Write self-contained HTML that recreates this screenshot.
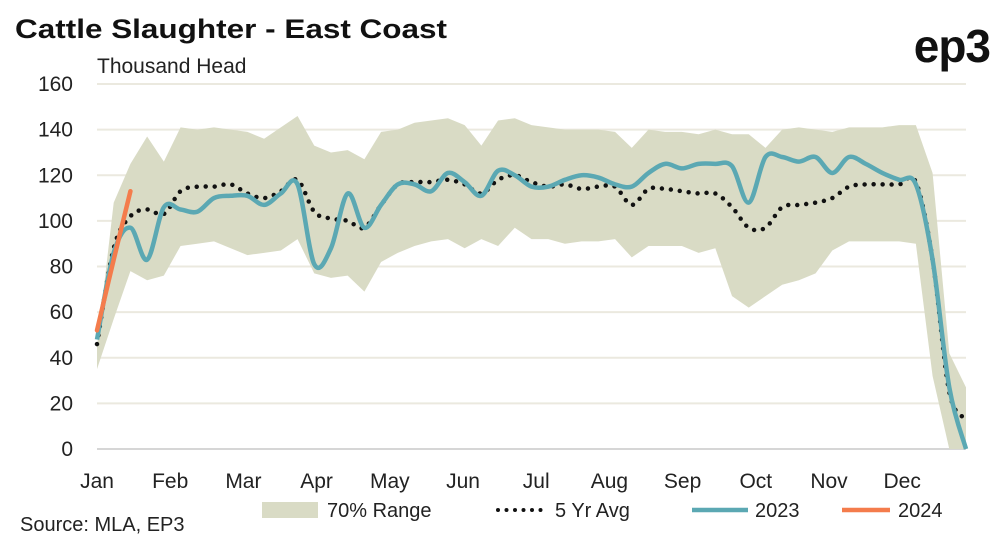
<!DOCTYPE html>
<html><head><meta charset="utf-8"><style>
body{margin:0;background:#fff;}
svg{display:block;font-family:"Liberation Sans",sans-serif;}
</style></head><body>
<svg id="c" width="1006" height="543">
<text x="15" y="38" font-size="27" font-weight="bold" fill="#111" textLength="432" lengthAdjust="spacingAndGlyphs">Cattle Slaughter - East Coast</text>
<text x="990" y="62" text-anchor="end" font-size="46" font-weight="bold" fill="#111" letter-spacing="-1">ep3</text>
<text x="97" y="73" font-size="21" fill="#222">Thousand Head</text>
<g id="grid"></g><g id="marks"></g><g id="axes"></g>
<text x="20" y="531" font-size="20" fill="#222">Source: MLA, EP3</text>
<g>
<rect x="262" y="502" width="56" height="16" fill="#d9dbc5"/>
<text x="327" y="517" font-size="20" fill="#222">70% Range</text>
<line x1="498" y1="510" x2="545" y2="510" stroke="#111" stroke-width="4" stroke-dasharray="0 8.5" stroke-linecap="round"/>
<text x="555" y="517" font-size="20" fill="#222">5 Yr Avg</text>
<line x1="692" y1="510" x2="748" y2="510" stroke="#5ba8b3" stroke-width="4.5"/>
<text x="755" y="517" font-size="20" fill="#222">2023</text>
<line x1="842" y1="510" x2="890" y2="510" stroke="#f47c4c" stroke-width="4.5"/>
<text x="898" y="517" font-size="20" fill="#222">2024</text>
</g>
</svg>
<script>
const months=["Jan","Feb","Mar","Apr","May","Jun","Jul","Aug","Sep","Oct","Nov","Dec"];
const yTicks=[0,20,40,60,80,100,120,140,160];
const upper=[45,108,125,137,126,141,140,141,140,139,136,141,146,133,130,131,127,139,140,143,144,145,142,133,144,145,142,141,140,140,140,139,132,140,139,139,138,140,138,138,132,140,141,140,139,141,141,141,142,142,121,42,27];
const lower=[35,57,78,74,76,89,90,91,88,85,86,87,92,77,75,76,69,82,86,89,91,92,88,92,89,97,92,92,90,91,91,92,84,89,89,89,86,88,67,62,67,72,74,77,87,91,91,91,91,90,32,0,0];
const avg5=[46,88,102,105,103,113,115,115,116,112,110,113,118,104,101,100,97,107,116,117,117,118,116,112,118,120,117,115,116,114,115,115,107,114,114,113,112,112,106,97,97,106,107,108,110,115,116,116,116,117,83,25,13];
const y2023=[48,86,97,83,106,105,104,110,111,111,107,112,116,81,88,112,97,107,116,116,113,121,117,111,122,120,115,115,118,120,119,116,115,121,125,123,125,125,124,108,128,128,126,128,121,128,125,121,118,116,83,27,0];
const y2024=[52,83,113];
const NS="http://www.w3.org/2000/svg";
const x0=97,x1=966,yb=449,yt=84;
const X=i=>x0+i*(x1-x0)/52;
const Y=v=>yb-(v/160)*(yb-yt);
function mk(t,a,p){const e=document.createElementNS(NS,t);for(const k in a)e.setAttribute(k,a[k]);p.appendChild(e);return e;}
const grid=document.getElementById('grid'),marks=document.getElementById('marks'),axes=document.getElementById('axes');
yTicks.forEach(v=>{
 const l=mk('line',{x1:x0,x2:x1,y1:Y(v),y2:Y(v),stroke:v===0?'#d6d6d6':'#ebe9df','stroke-width':2},grid);
 
 
 const t=mk('text',{x:73,y:Y(v)+7,'text-anchor':'end','font-size':21,fill:'#222'},axes);
 t.textContent=v;
 
 
});
months.forEach((m,i)=>{
 const t=mk('text',{x:x0+i*73.2,y:488,'text-anchor':'middle','font-size':21,fill:'#222'},axes);
 t.textContent=m;
 
 
});
let pts=upper.map((v,i)=>X(i)+','+Y(v)).concat(lower.map((v,i)=>X(i)+','+Y(v)).reverse());
const band=mk('polygon',{points:pts.join(' '),fill:'#d9dbc5'},marks);


function smooth(arr){
 const p=arr.map((v,i)=>[X(i),Y(v)]);let d='M'+p[0][0]+','+p[0][1];
 for(let i=0;i<p.length-1;i++){const a=p[Math.max(0,i-1)],b=p[i],c=p[i+1],e=p[Math.min(p.length-1,i+2)];
  d+=' C'+(b[0]+(c[0]-a[0])/6)+','+(b[1]+(c[1]-a[1])/6)+' '+(c[0]-(e[0]-b[0])/6)+','+(c[1]-(e[1]-b[1])/6)+' '+c[0]+','+c[1];}
 return d;}
const av=mk('path',{d:smooth(avg5),fill:'none',stroke:'#111','stroke-width':4.5,'stroke-dasharray':'0 9','stroke-linecap':'round'},marks);


const l23=mk('path',{d:smooth(y2023),fill:'none',stroke:'#5ba8b3','stroke-width':4.5,'stroke-linejoin':'round'},marks);


const l24=mk('path',{d:smooth(y2024),fill:'none',stroke:'#f47c4c','stroke-width':4.5,'stroke-linecap':'round'},marks);


</script>
</body></html>
